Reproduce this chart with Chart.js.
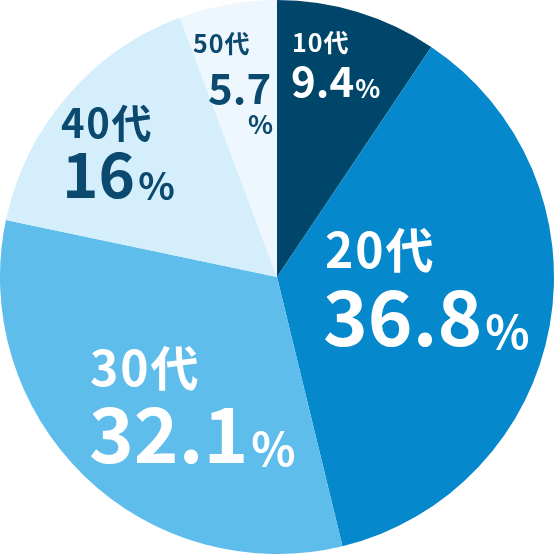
<!DOCTYPE html>
<html>
<head>
<meta charset="utf-8">
<script src="https://cdn.jsdelivr.net/npm/chart.js@4.4.1/dist/chart.umd.min.js"></script>
<style>
  html, body { margin: 0; padding: 0; background: #ffffff; }
  #wrap { width: 554px; height: 554px; position: relative; }
</style>
</head>
<body>
<div id="wrap"><canvas id="c" width="554" height="554"></canvas></div>
<script>
// ---- data ----
const categories = ['10代', '20代', '30代', '40代', '50代'];
const shares = [9.4, 36.8, 32.1, 16, 5.7];
const valueLabels = ['9.4', '36.8', '32.1', '16', '5.7'];
const percentSign = '%';

// ---- styles ----
const sliceColors = ['#00466a', '#0588cc', '#5fbdec', '#d4eefc', '#eef7fe'];
const textColors = ['#ffffff', '#ffffff', '#ffffff', '#0b4a6e', '#0b4a6e'];
const FONT = '"Noto Sans CJK JP", "Noto Sans", sans-serif';
const LABEL_SPACING = 0.04; // letter spacing in em for category labels
const VALUE_SPACING = 0.0;

// label layout (offsets relative to pie centre, in units of a 277px radius)
const labelLayout = [
  { lx: 15,   ly: -225, ls: 25, vx: 14,   vy: -180, vs: 42, ps: 26, py: -179, pgap: 1 },
  { lx: 48,   ly: -9,   ls: 48, vx: 46,   vy: 69,   vs: 76, ps: 46, py: 72,   pgap: 3 },
  { lx: -187, ly: 109,  ls: 48, vx: -188, vy: 186,  vs: 76, ps: 46, py: 189,  pgap: 3 },
  { lx: -216, ly: -139, ls: 40, vx: -215, vy: -79,  vs: 62, ps: 38, py: -77,  pgap: 3 },
  { lx: -84,  ly: -224, ls: 25, vx: -69,  vy: -173, vs: 42, ps: 26, px: -29, py: -143 }
];

function setFont(ctx, size, spacing) {
  ctx.font = `bold ${size}px ${FONT}`;
  ctx.letterSpacing = (size * spacing).toFixed(2) + 'px';
}

const labelPlugin = {
  id: 'sliceLabels',
  afterDatasetsDraw(chart) {
    const ctx = chart.ctx;
    const meta = chart.getDatasetMeta(0);
    meta.data.forEach((arc, i) => {
      const k = arc.outerRadius / 277;
      const L = labelLayout[i];
      const cx = arc.x, cy = arc.y;
      ctx.save();
      ctx.fillStyle = textColors[i];
      ctx.textAlign = 'left';
      ctx.textBaseline = 'alphabetic';
      setFont(ctx, L.ls * k, LABEL_SPACING);
      ctx.fillText(categories[i], cx + L.lx * k, cy + L.ly * k);
      setFont(ctx, L.vs * k, VALUE_SPACING);
      const vx = cx + L.vx * k, vy = cy + L.vy * k;
      ctx.fillText(valueLabels[i], vx, vy);
      const vw = ctx.measureText(valueLabels[i]).width;
      setFont(ctx, L.ps * k, 0);
      if (L.px !== undefined) {
        ctx.fillText(percentSign, cx + L.px * k, cy + L.py * k);
      } else {
        ctx.fillText(percentSign, vx + vw + L.pgap * k, cy + L.py * k);
      }
      ctx.restore();
    });
  }
};

new Chart(document.getElementById('c'), {
  type: 'pie',
  data: {
    labels: categories,
    datasets: [{
      data: shares,
      backgroundColor: sliceColors,
      borderWidth: 0,
      hoverOffset: 0
    }]
  },
  options: {
    responsive: false,
    animation: false,
    layout: { padding: 0 },
    plugins: {
      legend: { display: false },
      tooltip: { enabled: false }
    }
  },
  plugins: [labelPlugin]
});
</script>
</body>
</html>
